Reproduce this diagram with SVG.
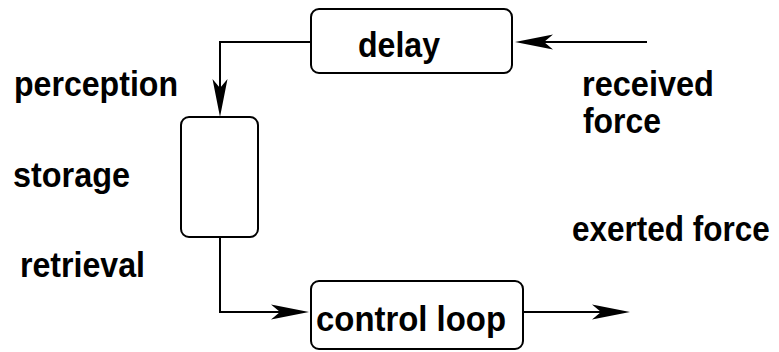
<svg xmlns="http://www.w3.org/2000/svg" width="779" height="352" viewBox="0 0 779 352">
<style>
.box{fill:#fff;stroke:#000;stroke-width:2}
.lbl{font-family:"Liberation Sans",Arial,sans-serif;font-weight:bold;font-size:35px;fill:#000}
.conn{fill:none;stroke:#000;stroke-width:2}
</style>
<defs>
<marker id="ah" markerUnits="userSpaceOnUse" markerWidth="40" markerHeight="17" refX="28" refY="7.5" orient="auto" overflow="visible">
<path d="M0,0 L38,7.5 L0,15 L9,7.5 z" fill="#000"/>
</marker>
</defs>
<rect width="779" height="352" fill="#fff"/>
<g id="connectors">
<path class="conn" d="M311,42 H220 V107" marker-end="url(#ah)"/>
<path class="conn" d="M647,42 H525" marker-end="url(#ah)"/>
<path class="conn" d="M220,237 V312 H299" marker-end="url(#ah)"/>
<path class="conn" d="M523,312 H620" marker-end="url(#ah)"/>
</g>
<g id="delay">
<rect class="box" x="311" y="9" width="201" height="64" rx="8"/>
<text class="lbl" x="358" y="57" textLength="82" lengthAdjust="spacingAndGlyphs">delay</text>
</g>
<g id="storage-box">
<rect class="box" x="181" y="117" width="77" height="120" rx="8"/>
</g>
<g id="control-loop">
<rect class="box" x="311" y="281" width="212" height="68" rx="8"/>
<text class="lbl" x="316" y="331" textLength="190" lengthAdjust="spacingAndGlyphs">control loop</text>
</g>
<g id="labels">
<text class="lbl" x="14" y="96" textLength="164" lengthAdjust="spacingAndGlyphs">perception</text>
<text class="lbl" x="13" y="187" textLength="117" lengthAdjust="spacingAndGlyphs">storage</text>
<text class="lbl" x="20" y="277" textLength="125" lengthAdjust="spacingAndGlyphs">retrieval</text>
<text class="lbl" x="582" y="96" textLength="132" lengthAdjust="spacingAndGlyphs">received</text>
<text class="lbl" x="583" y="133" textLength="78" lengthAdjust="spacingAndGlyphs">force</text>
<text class="lbl" transform="translate(572,241) scale(0.9,1)" x="0" y="0">exerted force</text>
</g>
</svg>
